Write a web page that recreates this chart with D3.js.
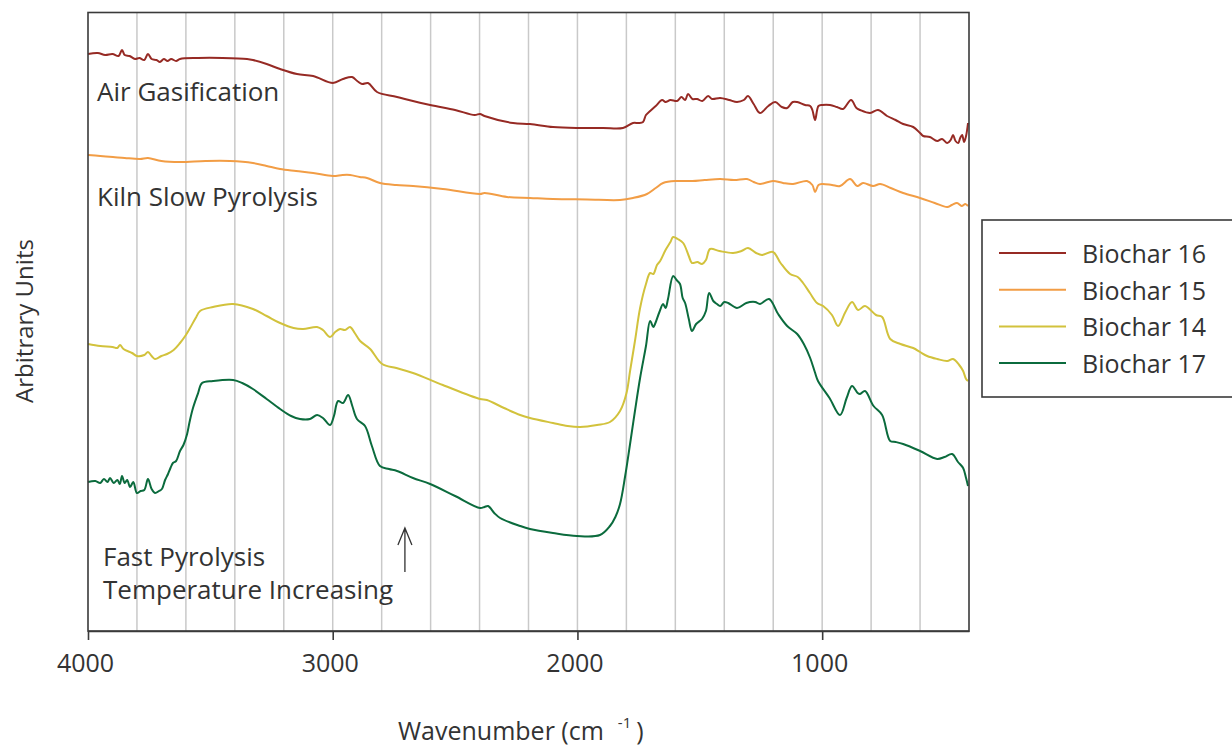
<!DOCTYPE html>
<html><head><meta charset="utf-8">
<script src="https://cdn.jsdelivr.net/npm/d3@7"></script>
<style>
body{margin:0;background:#fff;overflow:hidden}
text{font-family:"Open Sans","Noto Sans",sans-serif;fill:#333}
</style>
</head><body>
<svg id="chart" width="1232" height="746"></svg>
<script>
// ---------------- DATA ----------------
const seriesNames = ["Biochar 16", "Biochar 15", "Biochar 14", "Biochar 17"];
const seriesColors = ["#962a24", "#f29d45", "#d2c23c", "#0b6b3d"];
const xTickValues = [4000, 3000, 2000, 1000];
const gridValues = [3800,3600,3400,3200,3000,2800,2600,2400,2200,2000,1800,1600,1400,1200,1000,800,600];
const annotations = ["Air Gasification", "Kiln Slow Pyrolysis", "Fast Pyrolysis", "Temperature Increasing"];

// [wavenumber, arbitrary units]
const biochar16 = [
[4000,115.4],[3960,115.6],[3930,115.2],[3900,115.4],[3875,115.0],[3861,116.2],[3850,115.2],[3830,115.0],[3808,114.4],[3790,114.6],[3770,114.2],[3755,115.4],[3740,114.4],[3720,114.2],[3706,113.8],[3690,114.4],[3675,114.0],[3660,114.4],[3640,114.0],[3624,114.4],[3550,114.6],[3450,114.6],[3350,114.4],[3326,114.2],[3270,113.4],[3215,112.4],[3146,111.4],[3080,111.0],[2999,109.6],[2958,110.4],[2921,110.8],[2900,110.0],[2880,109.4],[2856,109.6],[2819,107.8],[2737,106.8],[2602,105.2],[2500,104.2],[2420,103.2],[2398,103.4],[2380,103.0],[2263,101.6],[2194,101.4],[2100,100.8],[2002,100.6],[1895,100.6],[1814,100.6],[1773,101.6],[1750,101.6],[1732,101.8],[1720,103.2],[1703,104],[1680,105],[1654,106.2],[1640,105.8],[1620,106.2],[1593,106],[1575,106.8],[1560,106.2],[1548,107.4],[1530,106.4],[1511,106.4],[1490,106.0],[1466,107],[1450,106.4],[1417,106.6],[1380,106.2],[1348,105.8],[1320,106.2],[1303,107],[1280,105.4],[1254,103.6],[1220,105.0],[1192,105.8],[1165,104.8],[1143,104.6],[1120,105.8],[1102,105.8],[1070,105.2],[1049,105],[1040,104.2],[1029,102.2],[1015,105],[1000,105.2],[968,105.2],[940,104.8],[915,104.4],[882,106.2],[860,104.6],[845,104.2],[804,103.6],[772,104.2],[735,103],[700,102.2],[669,101.4],[628,100.8],[600,99.6],[587,99],[560,98.8],[530,98],[510,98.4],[489,97.6],[475,98.2],[465,99.2],[455,98.0],[444,97.6],[436,98.6],[428,99.2],[420,97.8],[412,99.0],[404,101.6]
];
const biochar15 = [
[4000,95.2],[3950,95.0],[3898,94.8],[3850,94.6],[3787,94.4],[3755,94.6],[3700,94.0],[3624,93.8],[3520,94],[3420,94],[3326,93.6],[3270,93.0],[3215,92.4],[3150,92.0],[3080,91.6],[2999,91],[2960,91.2],[2929,91.2],[2890,90.8],[2860,90.6],[2807,89.6],[2740,89.2],[2672,89],[2550,88.4],[2398,87.4],[2380,87.6],[2288,86.8],[2194,86.6],[2100,86.4],[1960,86.3],[1826,86.2],[1773,86.6],[1716,87.4],[1680,88.6],[1650,89.6],[1593,90],[1530,90.0],[1480,90.2],[1417,90.4],[1360,90.2],[1307,90.4],[1280,89.8],[1254,89.4],[1201,90],[1160,89.6],[1119,89.4],[1062,90],[1040,89.2],[1029,87.8],[1015,89.2],[1000,89.4],[960,89.2],[927,89],[886,90.4],[857,89],[833,89.6],[792,89],[763,89.4],[720,88.6],[669,87.6],[600,86.6],[540,85.6],[489,84.8],[470,85.2],[449,85.6],[430,85.0],[415,85.4],[404,85]
];
const biochar14 = [
[4000,57.4],[3950,57.0],[3900,56.8],[3880,56.6],[3869,57.2],[3855,56.4],[3820,55.6],[3800,55],[3770,55.2],[3755,55.8],[3740,55.0],[3726,54.4],[3700,55.0],[3677,55.4],[3650,56.2],[3624,57.6],[3600,59.2],[3583,60.6],[3560,62.6],[3542,64],[3489,64.8],[3407,65.4],[3326,64.4],[3270,63.0],[3215,61.6],[3160,60.6],[3121,60.4],[3064,60.8],[3040,60.2],[3011,58.8],[2990,59.8],[2970,60.4],[2950,60.2],[2929,60.8],[2910,59.6],[2888,58],[2847,56.4],[2798,53.4],[2740,52.6],[2672,51.6],[2550,49.2],[2398,46.4],[2370,46.2],[2300,44.6],[2234,43.2],[2194,42.6],[2100,41.6],[2040,41.0],[1989,40.8],[1920,41.2],[1867,41.8],[1826,44],[1800,47.5],[1785,52],[1765,58],[1744,64.6],[1720,69.4],[1703,71.6],[1690,71.4],[1675,73.2],[1662,74],[1640,76.2],[1620,77.8],[1609,78.8],[1590,78.4],[1568,77.6],[1545,75.0],[1532,73.6],[1510,73.8],[1491,73.4],[1475,74.2],[1458,76.4],[1420,76.0],[1364,75.6],[1330,76.0],[1303,76.6],[1270,75.6],[1246,75.2],[1201,75.8],[1170,73.6],[1131,71.4],[1100,70.8],[1078,69.6],[1050,67.6],[1021,65.6],[996,65],[960,63.2],[935,61],[905,63.8],[878,65.8],[853,64.2],[825,65],[780,63.2],[755,62.8],[722,58.4],[680,57.4],[628,56.6],[600,55.8],[571,55],[530,54.4],[489,54],[465,54.4],[440,53.2],[424,52],[412,50.4],[404,50]
];
const biochar17 = [
[4000,29.8],[3970,30.0],[3950,29.6],[3935,30.4],[3920,29.8],[3910,30.6],[3895,29.6],[3880,30.2],[3870,29.4],[3861,31.0],[3850,29.6],[3840,30.2],[3828,28.8],[3815,29.8],[3800,27.6],[3785,28.0],[3770,28.2],[3755,30.4],[3740,28.4],[3726,27.6],[3710,28.0],[3698,28.4],[3685,30.2],[3673,31.4],[3663,32.6],[3653,33.6],[3640,34.0],[3624,36],[3610,37.2],[3595,39.4],[3585,41.8],[3571,44.6],[3550,47.6],[3534,49.6],[3489,50],[3407,50.2],[3370,49.6],[3326,48.4],[3270,46.4],[3215,44.4],[3170,43.0],[3134,42.4],[3093,42.4],[3064,43.2],[3040,42.6],[3011,41.2],[2995,43.0],[2978,46],[2958,45.6],[2937,47.2],[2920,45.0],[2901,42.4],[2868,41],[2840,37.0],[2807,33],[2770,32.4],[2737,32],[2672,30.6],[2602,29.4],[2500,27.0],[2398,24.6],[2380,24.8],[2365,25.0],[2340,23.6],[2316,22.6],[2234,21],[2194,20.4],[2100,19.6],[2002,19],[1908,19.2],[1867,21],[1845,22.8],[1826,25.4],[1805,31],[1785,37.4],[1765,44.0],[1744,50.6],[1720,57.0],[1703,62],[1690,60.8],[1683,61.4],[1665,63.8],[1650,65.4],[1640,64.6],[1630,66.4],[1609,71],[1595,70.2],[1581,69.4],[1570,66.6],[1560,65.6],[1545,62.4],[1532,60],[1515,61.4],[1491,62.4],[1475,64.0],[1462,67.6],[1445,66.0],[1430,65.4],[1417,65],[1400,65.8],[1384,65.6],[1348,64.6],[1310,65.6],[1274,65.8],[1254,65.4],[1217,66.4],[1180,63.4],[1143,61],[1102,59.4],[1075,57.4],[1049,54.6],[1030,51.8],[1017,50],[970,46.6],[927,43.2],[900,46.6],[878,49],[855,47.6],[845,47.4],[825,48],[790,45.0],[755,43.2],[722,38],[700,37.8],[669,37.4],[600,36.0],[530,34.4],[500,34.8],[469,35.4],[445,33.8],[424,32.6],[412,30.6],[404,29]
];
const seriesData = [biochar16, biochar15, biochar14, biochar17];

// ---------------- CHART ----------------
const svg = d3.select("#chart");
const plot = {left: 88, right: 969, top: 12.5, bottom: 631};

const x = d3.scaleLinear().domain([4000, 400]).range([plot.left, plot.right]);
const y = d3.scaleLinear().domain([0, 124]).range([plot.bottom, plot.bottom - 620]);

// gridlines
svg.append("g").selectAll("line").data(gridValues).join("line")
  .attr("x1", d => x(d)).attr("x2", d => x(d))
  .attr("y1", plot.top).attr("y2", plot.bottom)
  .attr("stroke", "#c9c9c9").attr("stroke-width", 1.5);

// lines
const line = d3.line().x(d => x(d[0])).y(d => y(d[1])).curve(d3.curveCatmullRom.alpha(0.5));
svg.append("g").selectAll("path").data(seriesData).join("path")
  .attr("d", line)
  .attr("fill", "none")
  .attr("stroke", (d, i) => seriesColors[i])
  .attr("stroke-width", 2)
  .attr("stroke-linejoin", "round");

// frame
svg.append("rect")
  .attr("x", plot.left).attr("y", plot.top)
  .attr("width", plot.right - plot.left).attr("height", plot.bottom - plot.top)
  .attr("fill", "none").attr("stroke", "#3a3a3a").attr("stroke-width", 1.6);

// x axis
const xAxis = d3.axisBottom(x).tickValues(xTickValues).tickSize(9).tickSizeOuter(0).tickPadding(14).tickFormat(d3.format("d"));
const gx = svg.append("g").attr("transform", `translate(0,${plot.bottom})`).call(xAxis);
gx.select(".domain").attr("stroke", "#3a3a3a").attr("stroke-width", 1.6);
gx.selectAll(".tick line").attr("stroke", "#3a3a3a").attr("stroke-width", 1.6);
gx.selectAll(".tick text").attr("font-size", 25).attr("fill", "#333")
  .attr("font-family", "'Open Sans', sans-serif").attr("dx", -3);

// axis titles
const xt = svg.append("text").attr("x", 398).attr("y", 740).attr("font-size", 25);
xt.append("tspan").text("Wavenumber (cm");
xt.append("tspan").attr("dx", 14).attr("dy", -12).attr("font-size", 15).text("-1");
xt.append("tspan").attr("dx", 5).attr("dy", 12).text(")");

svg.append("text")
  .attr("transform", "translate(33,321) rotate(-90)")
  .attr("text-anchor", "middle").attr("font-size", 24)
  .text("Arbitrary Units");

// annotations
const annPos = [[97, 101], [97, 206], [103, 566], [103, 599]];
svg.append("g").selectAll("text").data(annotations).join("text")
  .attr("x", (d, i) => annPos[i][0]).attr("y", (d, i) => annPos[i][1])
  .attr("font-size", 26).text(d => d);

// arrow
const arrowX = x(2705);
svg.append("path")
  .attr("d", `M${arrowX},572 L${arrowX},528 M${arrowX - 7},545 L${arrowX},528 L${arrowX + 7},545`)
  .attr("fill", "none").attr("stroke", "#333").attr("stroke-width", 1.3);

// legend
const lg = svg.append("g");
lg.append("rect").attr("x", 982).attr("y", 220).attr("width", 262).attr("height", 177)
  .attr("fill", "#fff").attr("stroke", "#3a3a3a").attr("stroke-width", 1.6);
const rows = lg.selectAll("g.row").data(seriesNames).join("g").attr("class", "row")
  .attr("transform", (d, i) => `translate(0,${253 + i * 36.7})`);
rows.append("line").attr("x1", 999).attr("x2", 1066).attr("y1", 0).attr("y2", 0)
  .attr("stroke", (d, i) => seriesColors[i]).attr("stroke-width", 2);
rows.append("text").attr("x", 1082).attr("y", 10).attr("font-size", 25).text(d => d);
</script>
</body></html>
